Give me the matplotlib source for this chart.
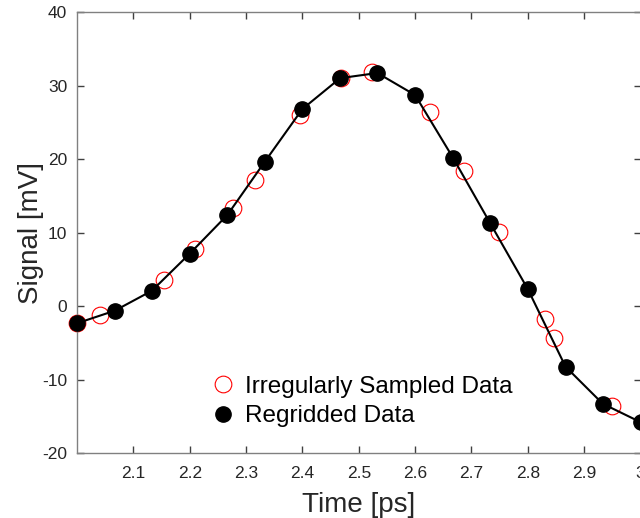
import numpy as np
import matplotlib
matplotlib.use("Agg")
import matplotlib.pyplot as plt

# irregularly sampled points (red open circles)
t_irr = [2.0, 2.041, 2.155, 2.210, 2.277, 2.315, 2.395, 2.468, 2.524,
         2.627, 2.686, 2.749, 2.831, 2.846, 2.949]
sig_irr = [-2.3, -1.22, 3.54, 7.79, 13.3, 17.1, 26.0, 31.0, 31.9,
           26.4, 18.3, 10.1, -1.77, -4.3, -13.6]

# regridded points (black dots + line)
t_reg = [2.0, 2.067, 2.133, 2.2, 2.267, 2.333, 2.4, 2.467, 2.533,
         2.6, 2.667, 2.733, 2.8, 2.867, 2.933, 3.0]
sig_reg = [-2.35, -0.64, 2.08, 7.12, 12.4, 19.6, 26.8, 31.0, 31.7,
           28.7, 20.2, 11.3, 2.3, -8.26, -13.3, -15.8]

xticks = [2.1, 2.2, 2.3, 2.4, 2.5, 2.6, 2.7, 2.8, 2.9, 3.0]
xticklabels = ["2.1", "2.2", "2.3", "2.4", "2.5", "2.6", "2.7", "2.8", "2.9", "3"]
yticks = [-20, -10, 0, 10, 20, 30, 40]

plt.rcParams['font.family'] = ['Liberation Sans', 'DejaVu Sans']
plt.rcParams['axes.unicode_minus'] = False

fig = plt.figure(figsize=(6.4, 5.18), dpi=100)
ax = fig.add_axes([77 / 640, 1 - 453 / 518, 563.5 / 640, 441 / 518])

ax.plot(t_irr, sig_irr, 'o', ms=12, mfc='none', mec='red', mew=0.8,
        clip_on=False, zorder=2, label='Irregularly Sampled Data')
ax.plot(t_reg, sig_reg, '-', color='black', lw=1.5, clip_on=False, zorder=3)
ax.plot(t_reg, sig_reg, 'o', ms=11, color='black', clip_on=False, zorder=4,
        label='Regridded Data')

ax.set_xlim(2.0, 3.0)
ax.set_ylim(-20, 40)
ax.set_xticks(xticks)
ax.set_xticklabels(xticklabels)
ax.set_yticks(yticks)

for s in ax.spines.values():
    s.set_color('#808080')
    s.set_linewidth(1.0)
ax.tick_params(direction='in', length=5, width=1, color='#404040',
               labelsize=12.5, labelcolor='#262626', top=True, right=True)
ax.tick_params(axis='x', pad=9)
ax.tick_params(axis='y', pad=7)

ax.set_xlabel('Time [ps]', fontsize=20, color='#262626', labelpad=8)
ax.set_ylabel('Signal [mV]', fontsize=20, color='#262626', labelpad=-1)

ax.legend(loc='center left', bbox_to_anchor=(0.216, 0.117), frameon=False,
          fontsize=17.5, handletextpad=0.3, labelspacing=0.32,
          handlelength=1.2, borderaxespad=0)

fig.savefig('out.png', dpi=100)
